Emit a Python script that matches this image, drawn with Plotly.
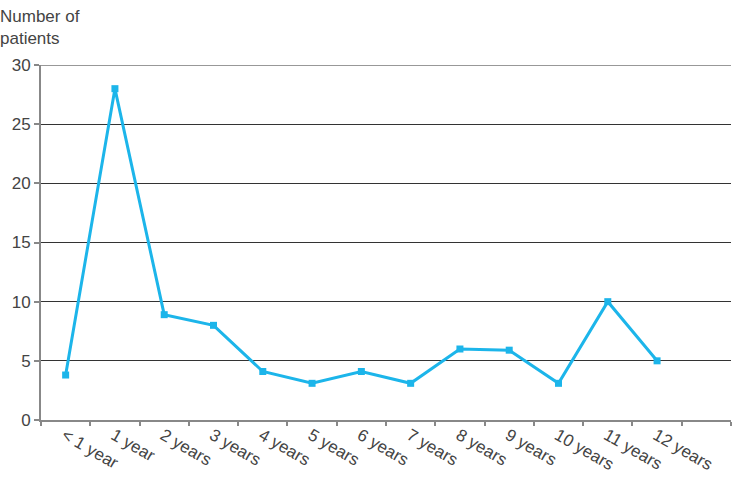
import plotly.graph_objects as go

categories = ["< 1 year", "1 year", "2 years", "3 years", "4 years", "5 years", "6 years",
              "7 years", "8 years", "9 years", "10 years", "11 years", "12 years"]
patients = [3.8, 28, 8.9, 8, 4.1, 3.1, 4.1, 3.1, 6, 5.9, 3.1, 10, 5]
y_ticks = [0, 5, 10, 15, 20, 25, 30]
y_title = "Number of<br>patients"

fig = go.Figure()
fig.add_trace(go.Scatter(
    x=categories, y=patients, mode="lines+markers",
    line=dict(color="#1cb5ea", width=3),
    marker=dict(symbol="square", size=7, color="#1cb5ea"),
    showlegend=False, cliponaxis=False,
))

# top gridline (Plotly hides the gridline at the upper range edge)
fig.add_shape(type="line", xref="paper", x0=0, x1=1, yref="y", y0=y_ticks[-1], y1=y_ticks[-1],
              line=dict(color="#333", width=1), layer="below")

fig.update_layout(
    width=732, height=490,
    margin=dict(l=41, r=1, t=65, b=70),
    paper_bgcolor="white", plot_bgcolor="white",
    font=dict(family="Liberation Sans, Arial, sans-serif", size=17, color="#444"),
    xaxis=dict(
        type="category", categoryorder="array", categoryarray=categories + [" "],
        range=[-0.5, len(categories) + 0.5],
        tickson="boundaries", ticks="outside", ticklen=4, tickcolor="#888", tickwidth=2,
        showline=True, linecolor="#888", linewidth=2, showgrid=False,
        tickangle=30, tickfont=dict(size=17, color="#444"),
        ticklabelstandoff=-3, ticklabelshift=-1,
    ),
    yaxis=dict(
        range=[0, 30], tickvals=y_ticks, ticks="outside", ticklen=5, tickcolor="#888", tickwidth=2,
        showline=True, linecolor="#888", linewidth=2,
        showgrid=True, gridcolor="#333", gridwidth=1, zeroline=False,
        tickfont=dict(size=17, color="#444"),
    ),
    annotations=[dict(
        text=y_title, xref="paper", yref="paper", x=-43 / 690, y=1 + 60 / 355,
        xanchor="left", yanchor="top", showarrow=False, align="left",
        font=dict(size=17, color="#444"),
    )],
)

fig.write_html("out.html")
